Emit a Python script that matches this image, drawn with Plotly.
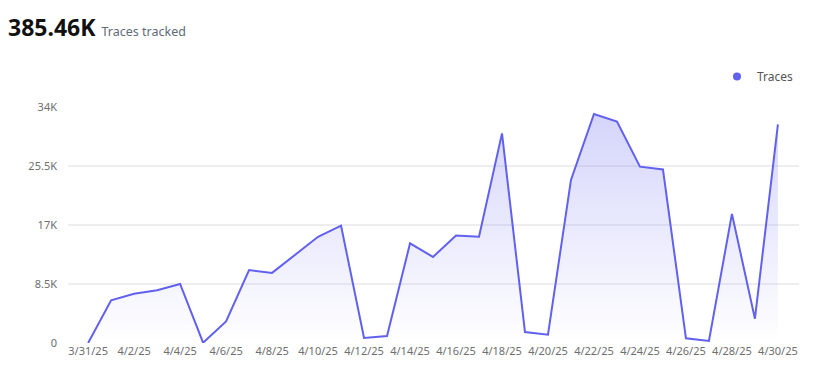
import plotly.graph_objects as go

dates = ["2025-03-31", "2025-04-01", "2025-04-02", "2025-04-03", "2025-04-04", "2025-04-05",
         "2025-04-06", "2025-04-07", "2025-04-08", "2025-04-09", "2025-04-10", "2025-04-11",
         "2025-04-12", "2025-04-13", "2025-04-14", "2025-04-15", "2025-04-16", "2025-04-17",
         "2025-04-18", "2025-04-19", "2025-04-20", "2025-04-21", "2025-04-22", "2025-04-23",
         "2025-04-24", "2025-04-25", "2025-04-26", "2025-04-27", "2025-04-28", "2025-04-29",
         "2025-04-30"]
traces = [0, 6150, 7100, 7600, 8500, 40, 3100, 10500, 10100, 12700, 15300, 16900,
          720, 1000, 14350, 12400, 15500, 15300, 30200, 1580, 1200, 23500, 33000, 31900,
          25400, 25000, 670, 290, 18600, 3500, 31500]

ytick_vals = [0, 8500, 17000, 25500, 34000]
ytick_text = ["0", "8.5K", "17K", "25.5K", "34K"]
xtick_vals = dates[::2]
xtick_text = ["3/31/25", "4/2/25", "4/4/25", "4/6/25", "4/8/25", "4/10/25", "4/12/25",
              "4/14/25", "4/16/25", "4/18/25", "4/20/25", "4/22/25", "4/24/25", "4/26/25",
              "4/28/25", "4/30/25"]

total_text = "385.46K"
subtitle = "Traces tracked"

LINE = "#6161ee"
FONT = "Noto Sans, Open Sans, sans-serif"

fig = go.Figure()
fig.add_trace(go.Scatter(
    x=dates, y=traces, name="Traces", mode="lines", showlegend=False,
    line=dict(color=LINE, width=2),
    fill="tozeroy",
    fillgradient=dict(type="vertical", start=0, stop=34000,
                      colorscale=[[0, "rgba(99,99,240,0.0)"], [1, "rgba(99,99,240,0.28)"]]),
))
# legend entry with circle marker
fig.add_trace(go.Scatter(
    x=[None], y=[None], name="Traces", mode="markers",
    marker=dict(color=LINE, size=8, symbol="circle"), showlegend=True,
))

fig.update_layout(
    width=813, height=378,
    margin=dict(l=68, r=14, t=107, b=35, autoexpand=False),
    paper_bgcolor="white", plot_bgcolor="white",
    font=dict(family=FONT, color="#6e6e6e", size=11),
    showlegend=True,
    legend=dict(x=1.0, y=1 + (107-62)/236, xanchor="right", yanchor="top",
                font=dict(size=12, color="#555"), itemwidth=30, bgcolor="rgba(0,0,0,0)"),
    xaxis=dict(type="date", range=["2025-03-30 03:00", "2025-04-30 22:00"],
               tickvals=xtick_vals, ticktext=xtick_text, showgrid=False, zeroline=False,
               showline=False, ticks="", tickfont=dict(size=11, color="#6e6e6e"), fixedrange=True),
    yaxis=dict(range=[0, 34000], tickvals=ytick_vals, ticktext=ytick_text,
               showgrid=True, gridcolor="#eeeef0", gridwidth=1.5, zeroline=False,
               showline=False, ticks="", ticklabelstandoff=10,
               tickfont=dict(size=11, color="#6e6e6e")),
    annotations=[
        dict(text="<b>" + total_text + "</b> <span style='font-size:12.5px;color:#5f6b7a;font-weight:normal'>"
             + subtitle + "</span>",
             xref="paper", yref="paper",
             x=(6-68)/731, y=1 + (107-9)/236, xanchor="left", yanchor="top",
             showarrow=False, font=dict(size=23, color="#111", family=FONT)),
    ],
)

fig.write_html("out.html")
